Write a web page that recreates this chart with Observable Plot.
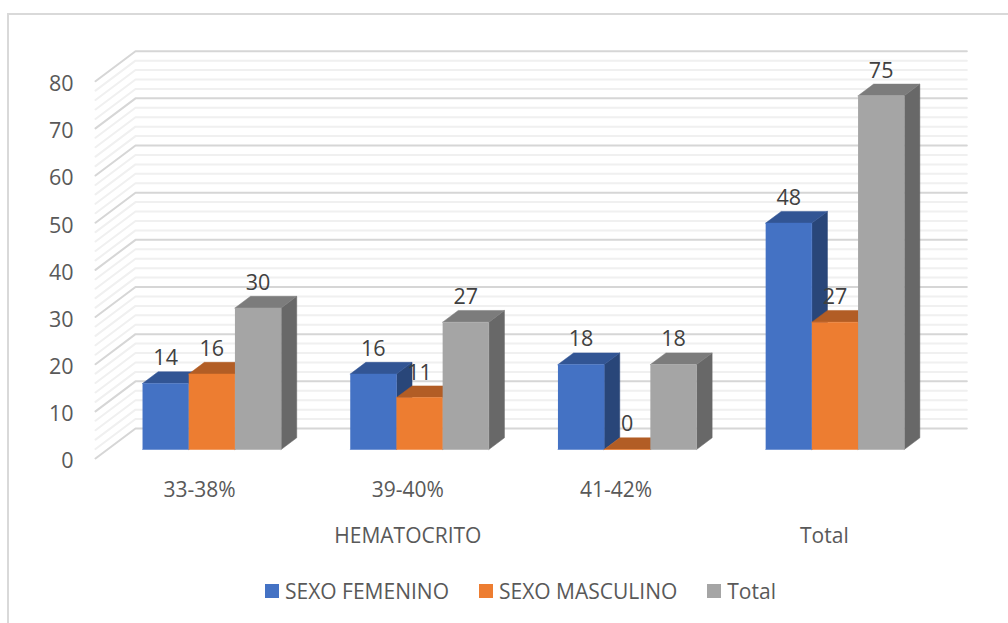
<!DOCTYPE html>
<html><head><meta charset="utf-8">
<script src="https://cdn.jsdelivr.net/npm/d3@7"></script>
<script src="https://cdn.jsdelivr.net/npm/@observablehq/plot@0.6"></script>
<style>
html,body{margin:0;padding:0;background:#fff;overflow:hidden}
#frame{position:absolute;left:7px;top:13px;width:1001px;height:610px;border:2px solid #D9D9D9;border-bottom:0;border-right:0;box-sizing:border-box}
#chart{position:absolute;left:0;top:0}
#legend{position:absolute;left:265px;top:577px;height:28px;display:flex;align-items:center;font:21px "Open Sans",sans-serif;color:#595959}
#legend span.s{width:14px;height:14px;display:inline-block;margin-right:6px}
#legend span.t{margin-right:30px}
</style></head><body>
<div id="frame"></div><div id="chart"></div>
<div id="legend"></div>
<script>
const categories = ["33-38%","39-40%","41-42%","Total"];
const series = ["SEXO FEMENINO","SEXO MASCULINO","Total"];
const femenino = [14,16,18,48];
const masculino = [16,11,0,27];
const totals = [30,27,18,75];
const seriesValues = [femenino,masculino,totals];
const frontColors = ["#4472C4","#ED7D31","#A5A5A5"];
const topColors = ["#325594","#B25D25","#7C7C7C"];
const sideColors = ["#294679","#9E5220","#686868"];
const yTicks = [0,10,20,30,40,50,60,70,80];
const minorTicks = d3.range(0,81,2).filter(v=>v%10!==0);

// oblique projection: depth d (0..1) shifts by these amounts in data units
const DX = 40/208.25, DY = 30/4.716;
const P = (u,v,d)=>({x:u+d*DX,y:v+d*DY});
const BAR = 46.2/208.25, D0 = 0.3, D1 = 0.69, GROUP = 0.9974;

const barLeft = (i,s)=>GROUP*i+0.5-1.5*BAR+0.001+s*BAR;
const faces = [];
categories.forEach((c,i)=>{
  seriesValues.forEach((vals,s)=>{
    const v = vals[i];
    const a = barLeft(i,s), b = a+BAR;
    const add=(id,color,pts)=>pts.forEach(p=>faces.push({...p,id:`${i}-${s}-${id}`,color}));
    add("side",sideColors[s],[P(b,0,D0),P(b,0,D1),P(b,v,D1),P(b,v,D0)]);
    add("top",topColors[s],[P(a,v,D0),P(a,v,D1),P(b,v,D1),P(b,v,D0)]);
    add("front",frontColors[s],[P(a,0,D0),P(b,0,D0),P(b,v,D0),P(a,v,D0)]);
  });
});
const labels = categories.flatMap((c,i)=>seriesValues.map((vals,s)=>
  ({...P(barLeft(i,s)+BAR/2,vals[i],D0),t:vals[i]})));
const gridPts = vals => vals.flatMap(v=>[
  {x:0,y:v,v},{x:DX,y:v+DY,v},{x:4+DX-0.008,y:v+DY,v}]);

const plot = Plot.plot({
  width:1008,height:565,
  marginLeft:95,marginRight:80,marginTop:80.7,marginBottom:107,
  style:{background:"transparent",fontFamily:"'Open Sans',sans-serif",overflow:"visible"},
  x:{domain:[0,4],axis:null},
  y:{domain:[0,80],axis:null},
  marks:[
    Plot.line(gridPts(minorTicks),{x:"x",y:"y",z:"v",stroke:"#F0F0F0",strokeWidth:2}),
    Plot.line(gridPts(yTicks),{x:"x",y:"y",z:"v",stroke:"#D6D6D6",strokeWidth:2}),
    Plot.line(faces,{x:"x",y:"y",z:"id",fill:{value:"color",scale:null},stroke:{value:"color",scale:null},strokeWidth:0.5}),
    Plot.text(labels,{x:"x",y:"y",text:"t",dy:-25,fill:"#404040",fontSize:21.5}),
    Plot.axisY({ticks:yTicks,tickSize:0,tickPadding:22,fontSize:21.5,fill:"#595959",label:null,dy:3}),
    Plot.axisX({ticks:[0.5,1.5,2.5],tickFormat:u=>categories[u-0.5],tickSize:0,tickPadding:24,fontSize:21,fill:"#595959",label:null}),
    Plot.axisX({ticks:[1.5,3.5],tickFormat:u=>u===1.5?"HEMATOCRITO":"Total",tickSize:0,tickPadding:70,fontSize:21,fill:"#595959",label:null})
  ]
});
document.getElementById("chart").appendChild(plot);
const lg = document.getElementById("legend");
series.forEach((s,i)=>{
  lg.insertAdjacentHTML("beforeend",`<span class="s" style="background:${frontColors[i]}"></span><span class="t">${s}</span>`);
});
</script></body></html>
